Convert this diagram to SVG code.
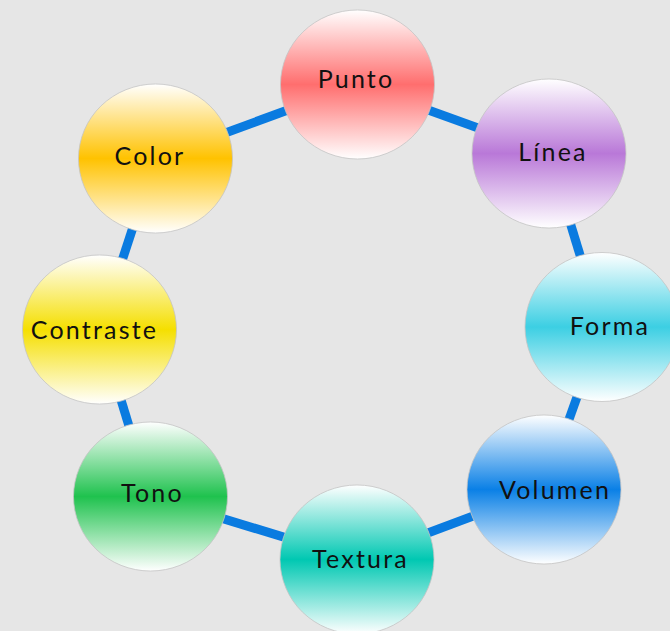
<svg xmlns="http://www.w3.org/2000/svg" width="670" height="631" viewBox="0 0 670 631">
<defs>
<style>
.edge{stroke:#0a7be0;stroke-width:9;fill:none}
.node ellipse{stroke:#c4c4c4;stroke-width:0.8}
.node text{font-family:Lato,"Noto Sans",sans-serif;font-size:25px;letter-spacing:2.2px;fill:#111;text-anchor:middle}
</style>
<linearGradient id="gPunto" x1="0" y1="0" x2="0" y2="1"><stop offset="0" stop-color="#fff"/><stop offset="0.5" stop-color="#ff6e6e"/><stop offset="1" stop-color="#fff"/></linearGradient>
<linearGradient id="gLinea" x1="0" y1="0" x2="0" y2="1"><stop offset="0" stop-color="#fff"/><stop offset="0.5" stop-color="#b978d8"/><stop offset="1" stop-color="#fff"/></linearGradient>
<linearGradient id="gForma" x1="0" y1="0" x2="0" y2="1"><stop offset="0" stop-color="#fff"/><stop offset="0.5" stop-color="#3ccfe3"/><stop offset="1" stop-color="#fff"/></linearGradient>
<linearGradient id="gVolumen" x1="0" y1="0" x2="0" y2="1"><stop offset="0" stop-color="#fff"/><stop offset="0.5" stop-color="#0a80e6"/><stop offset="1" stop-color="#fff"/></linearGradient>
<linearGradient id="gTextura" x1="0" y1="0" x2="0" y2="1"><stop offset="0" stop-color="#fff"/><stop offset="0.5" stop-color="#00c8b2"/><stop offset="1" stop-color="#fff"/></linearGradient>
<linearGradient id="gTono" x1="0" y1="0" x2="0" y2="1"><stop offset="0" stop-color="#fff"/><stop offset="0.5" stop-color="#1fc24e"/><stop offset="1" stop-color="#fff"/></linearGradient>
<linearGradient id="gContraste" x1="0" y1="0" x2="0" y2="1"><stop offset="0" stop-color="#fff"/><stop offset="0.5" stop-color="#f5df00"/><stop offset="1" stop-color="#fff"/></linearGradient>
<linearGradient id="gColor" x1="0" y1="0" x2="0" y2="1"><stop offset="0" stop-color="#fff"/><stop offset="0.5" stop-color="#ffc200"/><stop offset="1" stop-color="#fff"/></linearGradient>
</defs>
<rect width="670" height="631" fill="#e6e6e6"/>
<g id="connectors">
<line class="edge" x1="357.5" y1="84.5" x2="549" y2="153.5"/>
<line class="edge" x1="549" y1="153.5" x2="602" y2="327"/>
<line class="edge" x1="602" y1="327" x2="544" y2="489.5"/>
<line class="edge" x1="544" y1="489.5" x2="357" y2="559.5"/>
<line class="edge" x1="357" y1="559.5" x2="150.5" y2="496.5"/>
<line class="edge" x1="150.5" y1="496.5" x2="99.5" y2="329.5"/>
<line class="edge" x1="99.5" y1="329.5" x2="155.5" y2="158.5"/>
<line class="edge" x1="155.5" y1="158.5" x2="357.5" y2="84.5"/>
</g>
<g id="punto" class="node"><ellipse cx="357.5" cy="84.5" rx="77" ry="74.5" fill="url(#gPunto)"/><text x="356" y="88">Punto</text></g>
<g id="linea" class="node"><ellipse cx="549" cy="153.5" rx="77" ry="74.5" fill="url(#gLinea)"/><text x="553" y="161">Línea</text></g>
<g id="forma" class="node"><ellipse cx="602" cy="327" rx="77" ry="74.5" fill="url(#gForma)"/><text x="610" y="335">Forma</text></g>
<g id="volumen" class="node"><ellipse cx="544" cy="489.5" rx="77" ry="74.5" fill="url(#gVolumen)"/><text x="555" y="499">Volumen</text></g>
<g id="textura" class="node"><ellipse cx="357" cy="559.5" rx="77" ry="74.5" fill="url(#gTextura)"/><text x="360.5" y="568">Textura</text></g>
<g id="tono" class="node"><ellipse cx="150.5" cy="496.5" rx="77" ry="74.5" fill="url(#gTono)"/><text x="152.5" y="502">Tono</text></g>
<g id="contraste" class="node"><ellipse cx="99.5" cy="329.5" rx="77" ry="74.5" fill="url(#gContraste)"/><text x="94.5" y="339">Contraste</text></g>
<g id="color" class="node"><ellipse cx="155.5" cy="158.5" rx="77" ry="74.5" fill="url(#gColor)"/><text x="150" y="165">Color</text></g>
</svg>
